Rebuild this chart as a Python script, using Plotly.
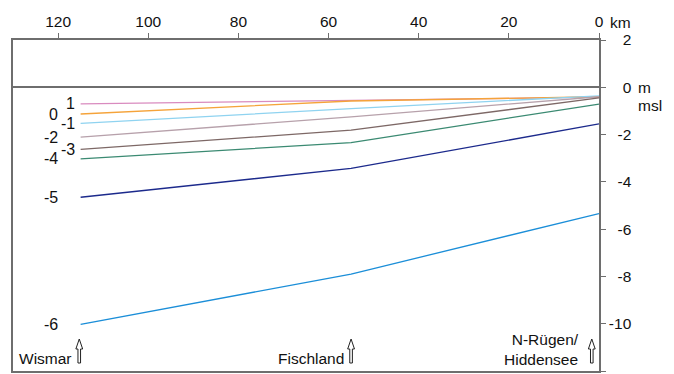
import plotly.graph_objects as go

# ---- data ----
km = [115, 55, 0]
series_names = ["1", "0", "-1", "-2", "-3", "-4", "-5", "-6"]
series_values = {
    "1":  [-0.70, -0.56, -0.42],
    "0":  [-1.13, -0.58, -0.40],
    "-1": [-1.53, -0.90, -0.36],
    "-2": [-2.11, -1.25, -0.40],
    "-3": [-2.63, -1.81, -0.45],
    "-4": [-3.03, -2.34, -0.71],
    "-5": [-4.65, -3.43, -1.55],
    "-6": [-10.03, -7.90, -5.34],
}
series_colors = {
    "1": "#d98bbf", "0": "#f5a33a", "-1": "#8fd3f0", "-2": "#b7a1ab",
    "-3": "#7d6866", "-4": "#3b8a72", "-5": "#1c2a8c", "-6": "#1b8ed8",
}
label_near = {"1": True, "0": False, "-1": True, "-2": False,
              "-3": True, "-4": False, "-5": False, "-6": False}

x_ticks = [120, 100, 80, 60, 40, 20, 0]
y_ticks = [2, 0, -2, -4, -6, -8, -10, -12]
y_labels = ["2", "0", "-2", "-4", "-6", "-8", "-10", "-12"]

site_names = ["Wismar", "Fischland", "N-Rügen/<br>Hiddensee"]
site_km = [115.3, 55, 1.6]

FONT = "Liberation Sans, Arial, sans-serif"
AXC = "#6e6e6e"


def right_pad(lbl, width=3):
    # pad with invisible characters of equal advance so labels end at the same x
    missing = width - len(lbl)
    if missing <= 0:
        return lbl
    pad = ("-" + "0" * (missing - 1)) if not lbl.startswith("-") else "0" * missing
    if not lbl.startswith("-") and missing == 2:
        pad = "-0"
    return "<span style='color:rgba(0,0,0,0)'>" + pad + "</span>" + lbl


y_ticktext = [right_pad(l) for l in y_labels]

fig = go.Figure()
for name in series_names:
    fig.add_trace(go.Scatter(x=km, y=series_values[name], mode="lines",
                             line=dict(color=series_colors[name], width=1.3),
                             name=name, showlegend=False, hoverinfo="skip"))

annotations = []
for name in series_names:
    annotations.append(dict(x=km[0], y=series_values[name][0], xref="x", yref="y",
                            text=name, showarrow=False, xanchor="right", yanchor="middle",
                            xshift=-4 if label_near[name] else -21,
                            font=dict(size=16, color="#111", family=FONT)))

shapes = []
arrow_path = "M -1.3,8 L -1.3,22 L -3.4,22 L 0,32 L 3.4,22 L 1.3,22 L 1.3,8 Z"
for nm, k in zip(site_names, site_km):
    two = "<br>" in nm
    annotations.append(dict(x=k, y=-12, xref="x", yref="y", text=nm, showarrow=False,
                            xanchor="right", yanchor="middle", align="right",
                            xshift=-11 if two else -5, yshift=22 if two else 13,
                            font=dict(size=15.5, color="#111", family=FONT)))
    shapes.append(dict(type="path", xref="x", yref="y", xsizemode="pixel", ysizemode="pixel",
                       xanchor=k, yanchor=-12, path=arrow_path,
                       line=dict(color="#222", width=1), fillcolor="white", layer="above"))

annotations += [
    dict(x=0, y=1, xref="x", yref="paper", text="km", showarrow=False, xanchor="left",
         yanchor="middle", xshift=9, yshift=18, font=dict(size=15.5, color="#111", family=FONT)),
    dict(x=1, y=0, xref="paper", yref="y", text="m", showarrow=False, xanchor="left",
         yanchor="middle", xshift=37, font=dict(size=15.5, color="#111", family=FONT)),
    dict(x=1, y=0, xref="paper", yref="y", text="msl", showarrow=False, xanchor="left",
         yanchor="middle", xshift=37, yshift=-18, font=dict(size=15.5, color="#111", family=FONT)),
]

fig.update_layout(
    width=674, height=374,
    margin=dict(l=13, r=75, t=40, b=1),
    paper_bgcolor="white", plot_bgcolor="white",
    font=dict(family=FONT, size=15.5, color="#111"),
    annotations=annotations, shapes=shapes,
    xaxis=dict(side="top", range=[130, 0], tickvals=x_ticks, ticks="outside", ticklen=5,
               tickcolor=AXC, showline=True, linecolor=AXC, linewidth=1.5, mirror=True,
               showgrid=False, zeroline=False, tickfont=dict(size=15.5, color="#111")),
    yaxis=dict(side="right", range=[-12, 2], tickvals=y_ticks, ticktext=y_ticktext,
               ticks="outside", ticklen=5, tickcolor=AXC, showline=True, linecolor=AXC,
               linewidth=1.5, mirror=True, showgrid=False, zeroline=True,
               zerolinecolor=AXC, zerolinewidth=1.5, tickfont=dict(size=15.5, color="#111")),
)

fig.write_html("out.html")
